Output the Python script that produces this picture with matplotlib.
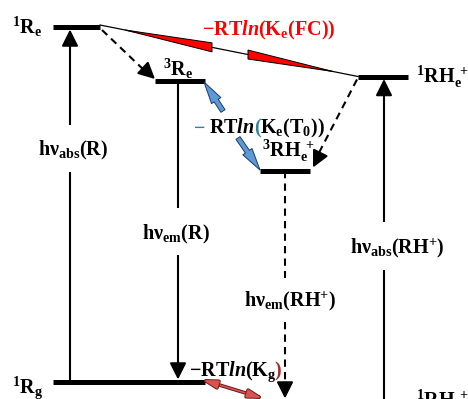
import matplotlib
matplotlib.use("Agg")
import math
import matplotlib.pyplot as plt
from matplotlib.patches import FancyArrowPatch, Polygon
import matplotlib.patheffects as pe

plt.rcParams['mathtext.fontset'] = 'custom'
plt.rcParams['mathtext.rm'] = 'Liberation Serif:bold'
plt.rcParams['mathtext.it'] = 'Liberation Serif:italic:bold'
plt.rcParams['mathtext.bf'] = 'Liberation Serif:bold'
plt.rcParams['font.family'] = ['Liberation Serif', 'DejaVu Serif']
plt.rcParams['font.weight'] = 'bold'

# ---- diagram data (pixel-like coordinates, y grows downward) ----
level_names = ['1Re', '3Re', '1RHe+', '3RHe+', '1Rg', '1RHg+']
level_x0 = [53, 155, 358, 260, 53, 260]
level_x1 = [100, 205, 408, 310, 205, 410]
level_y = [27, 81, 76.5, 170.5, 382, 401]

label_texts = [r'$^{1}\mathrm{R_e}$', r'$^{3}\mathrm{R_e}$', r'$^{1}\mathrm{RH_e^{\ +}}$',
               r'$^{3}\mathrm{RH_e^{\ +}}$', r'$^{1}\mathrm{R_g}$', r'$^{1}\mathrm{RH_g^{\ +}}$']
label_x = [12, 163, 416, 262, 12, 416]
label_y = [34, 76, 83, 157, 393, 406]

trans_texts = [r'$\mathrm{h\nu_{abs}(R)}$', r'$\mathrm{h\nu_{em}(R)}$',
               r'$\mathrm{h\nu_{em}(RH^{+})}$', r'$\mathrm{h\nu_{abs}(RH^{+})}$']
trans_x = [70, 178, 285, 384]
trans_from = ['1Rg', '3Re', '3RHe+', '1RHg+']
trans_to = ['1Re', '1Rg', '1RHg+', '1RHe+']
trans_dashed = [False, False, True, False]
trans_gap = [(125, 172), (208, 255), (278, 322), (222, 270)]
trans_text_x = [73, 176, 290, 397]
trans_text_y = [155, 239, 306, 253]

FS = 14.5
lvl = {n: (a, b, y) for n, a, b, y in zip(level_names, level_x0, level_x1, level_y)}

fig = plt.figure(figsize=(4.68, 3.99), dpi=100)
ax = fig.add_axes([0, 0, 1, 1])
ax.set_xlim(0, 468)
ax.set_ylim(399, 0)
ax.axis('off')

LW = 1.5


def head(x0, y0, x1, y1, color='black', hl=10, hw=5):
    d = math.hypot(x1 - x0, y1 - y0)
    ux, uy = (x1 - x0) / d, (y1 - y0) / d
    L = 12
    ax.annotate('', xy=(x1, y1), xytext=(x1 - ux * L, y1 - uy * L),
                arrowprops=dict(arrowstyle=f'-|>,head_length={hl / 10},head_width={hw / 10}',
                                mutation_scale=10, lw=LW, color=color,
                                shrinkA=0, shrinkB=0))


def line(xs, ys, dashed=False, lw=LW, color='black'):
    ax.plot(xs, ys, color=color, lw=lw, solid_capstyle='butt',
            linestyle=(0, (3.5, 2.5)) if dashed else '-', dash_capstyle='butt')


# levels
for n in level_names:
    a, b, y = lvl[n]
    ax.plot([a, b], [y, y], color='black', lw=3.6, solid_capstyle='butt', zorder=3)

for t, x, y in zip(label_texts, label_x, label_y):
    ax.text(x, y, t, fontsize=FS, ha='left', va='baseline')

# vertical transitions
for x, f, to, dsh, gap, t, tx, ty in zip(trans_x, trans_from, trans_to, trans_dashed,
                                        trans_gap, trans_texts, trans_text_x, trans_text_y):
    y0 = lvl[f][2]
    y1 = lvl[to][2]
    sgn = 1 if y1 > y0 else -1
    tip = y1 - sgn * 2.5
    g0, g1 = (gap if sgn > 0 else (gap[1], gap[0]))
    line([x, x], [y0, g0], dsh)
    line([x, x], [g1, tip - sgn * 12], dsh)
    head(x, g1, x, tip)
    ax.text(tx, ty, t, fontsize=FS, ha='center', va='baseline')

# intersystem crossings (dashed diagonals)
a, b, y = lvl['1Re']
a2, b2, y2 = lvl['3Re']
line([b + 2, a2 - 9], [y + 3, y2 - 9], True)
head(b + 2, y + 3, a2, y2 - 2)
a, b, y = lvl['1RHe+']
a2, b2, y2 = lvl['3RHe+']
line([a - 1, b2 + 6], [y + 3, y2 - 12], True)
head(a - 1, y + 3, b2 + 3, y2 - 3)

# FC line with red wedges
xa, ya = lvl['1Re'][1], lvl['1Re'][2] - 2
xb, yb = lvl['1RHe+'][0], lvl['1RHe+'][2]
ax.plot([xa, xb], [ya, yb], color='black', lw=0.9)


def on_line(x):
    return ya + (yb - ya) * (x - xa) / (xb - xa)


for tipx, basex in [(125, 212), (333, 248)]:
    poly = Polygon([(tipx, on_line(tipx)), (basex, on_line(basex) - 4.5),
                    (basex, on_line(basex) + 4.5)], closed=True,
                   facecolor='#ff0000', edgecolor='black', lw=0.7, zorder=4)
    ax.add_patch(poly)

ax.text(202, 35, r'$\mathrm{-RT}\mathit{ln}\mathrm{(K_e(FC))}$', fontsize=FS,
        color='#ff0000', ha='left', va='baseline')

# blue arrows (triplet equilibrium)
for s, e in [((223, 111), (204, 82)), ((238, 138), (260, 170))]:
    ar = FancyArrowPatch(s, e, arrowstyle='simple,head_length=1.6,head_width=0.8,tail_width=0.35',
                         mutation_scale=10, facecolor='#5b9bd5', edgecolor='#1f3864', lw=0.7,
                         shrinkA=0, shrinkB=0, zorder=4)
    ax.add_patch(ar)

fig.canvas.draw()
rend = fig.canvas.get_renderer()


def pieces(x, y, parts):
    inv = ax.transData.inverted()
    for txt, col, kern in parts:
        x += kern
        t = ax.text(x, y, txt, fontsize=FS, color=col, ha='left', va='baseline')
        bb = t.get_window_extent(rend)
        x = inv.transform((bb.x1, bb.y0))[0]


pieces(193, 133, [(r'$\mathrm{-}$', '#31849b', 0), (r'$\mathrm{RT}\mathit{ln}$', 'black', 4),
                  (r'$\mathrm{(}$', '#31849b', -1.5), (r'$\mathrm{K_e(T_0))}$', 'black', -1.5)])

# ground state equilibrium arrow
ar = FancyArrowPatch((lvl['1Rg'][1] - 2, lvl['1Rg'][2] - 2), (lvl['1RHg+'][0] + 2, lvl['1RHg+'][2] - 3),
                     arrowstyle='<|-|>,head_length=0.9,head_width=0.25', mutation_scale=10,
                     color='#d9534f', lw=1.2, shrinkA=0, shrinkB=0, zorder=4,
                     path_effects=[pe.withStroke(linewidth=2.6, foreground='#6b1a1a')])
ax.add_patch(ar)
pieces(189, 376, [(r'$\mathrm{-RT}\mathit{ln}\mathrm{(K_g}$', 'black', 0), (r'$\mathrm{)}$', '#a0302c', -2.5)])

fig.savefig('out.png', dpi=100)
